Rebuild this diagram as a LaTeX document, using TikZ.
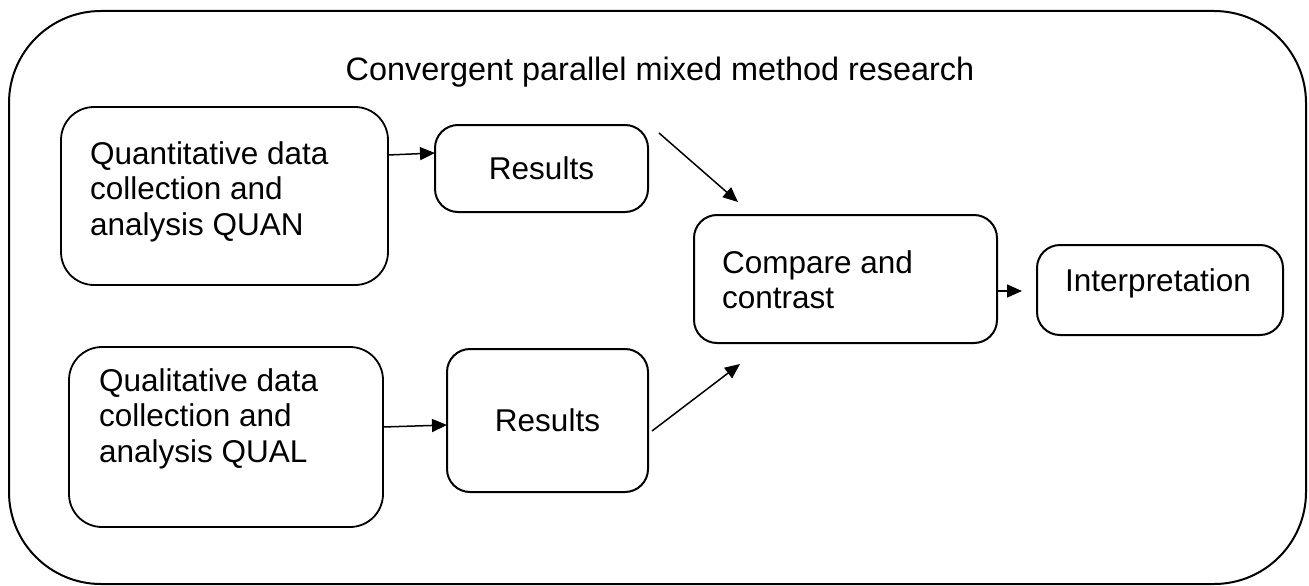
\documentclass[tikz,border=0pt]{standalone}
\usepackage{fontspec}
\setmainfont{Liberation Sans}
\usetikzlibrary{arrows.meta,calc}

\tikzset{
  box/.style={draw=black, line width=2pt, rounded corners=23pt, inner sep=0pt},
  bigbox/.style={box, rounded corners=33pt, line width=1.8pt},
  frame/.style={draw=black, line width=2pt, rounded corners=92pt, inner sep=0pt},
  txt/.style={inner sep=0pt, align=left, font=\fontsize{31.5}{35.5}\selectfont},
  flow/.style={line width=1.5pt, -{Triangle[length=15pt,width=13pt]}}
}

\begin{document}
\begin{tikzpicture}[x=1pt, y=-1pt]
  \useasboundingbox (0,0) rectangle (1309,586);

  % outer frame and title
  \node[frame, minimum width=1297pt, minimum height=573pt] (frame) at (657.5,297.5) {};
  \node[txt, font=\fontsize{32.4}{36}\selectfont] (title) at (660,72) {Convergent parallel mixed method research};

  % data strands
  \node[bigbox, minimum width=327pt, minimum height=178pt] (quan) at (224.5,196) {};
  \node[txt, anchor=north west] (quantxt) at (90,141) {Quantitative data\\collection and\\analysis QUAN};

  \node[bigbox, minimum width=314pt, minimum height=180pt] (qual) at (226,437) {};
  \node[txt, anchor=north west] (qualtxt) at (99,368) {Qualitative data\\collection and\\analysis QUAL};

  \node[box, txt, minimum width=213pt, minimum height=87pt] (res1) at (541.5,168.5) {Results};
  \node[box, txt, minimum width=201pt, minimum height=143pt] (res2) at (547.5,420.5) {Results};

  % merging and interpretation
  \node[box, minimum width=303pt, minimum height=128pt] (cmp) at (845.5,279) {};
  \node[txt, anchor=north west] (cmptxt) at (722,250) {Compare and\\contrast};

  \node[box, minimum width=246pt, minimum height=90pt] (interp) at (1160,290) {};
  \node[txt, anchor=north] (interptxt) at (1158,268) {Interpretation};

  % connector end points
  \coordinate (q1s) at (388,155);
  \coordinate (q1e) at (435,153);
  \coordinate (q2s) at (383,427);
  \coordinate (q2e) at (447,425);
  \coordinate (r1s) at (659,133);
  \coordinate (r1e) at (738,202);
  \coordinate (r2s) at (652,431);
  \coordinate (r2e) at (740,364);
  \coordinate (cs) at (997,291);
  \coordinate (ce) at (1022,291);

  \draw[flow] (q1s) -- (q1e);
  \draw[flow] (q2s) -- (q2e);
  \draw[flow] (r1s) -- (r1e);
  \draw[flow] (r2s) -- (r2e);
  \draw[flow] (cs) -- (ce);
\end{tikzpicture}
\end{document}
